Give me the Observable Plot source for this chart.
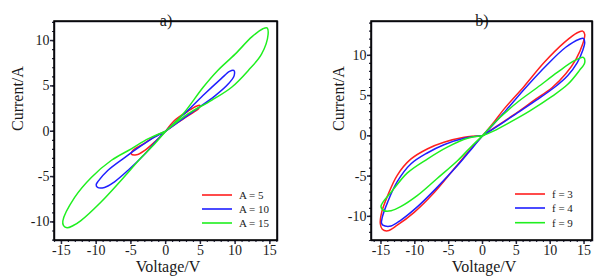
<!DOCTYPE html>
<html><head><meta charset="utf-8">
<script src="https://cdn.jsdelivr.net/npm/d3@7"></script>
<script src="https://cdn.jsdelivr.net/npm/@observablehq/plot@0.6"></script>
<style>
body{margin:0;background:#fff;}
#wrap{position:relative;width:607px;height:280px;}
#wrap svg{position:absolute;top:0;overflow:visible;}
#wrap svg, #wrap svg text{font-family:"Liberation Serif","DejaVu Serif",serif !important;}
</style></head><body><div id="wrap"></div>
<script>
const ampLabels = ["A = 5", "A = 10", "A = 15"];
const freqLabels = ["f = 3", "f = 4", "f = 9"];
const seriesColors = ["#ff1f1f", "#1f1fff", "#1fef1f"];
const xTicks = [-15, -10, -5, 0, 5, 10, 15];
const yTicks = [-10, -5, 0, 5, 10];

// panel a) lobes as [voltage, current]
const a5Up  = [[0,0],[1.3,1.2],[3.2,2.2],[4.4,2.75],[4.9,2.85],[4.75,2.5],[3.2,1.7],[1.3,0.73],[0,0]];
const a5Low = [[0,0],[-1.6,-0.6],[-3.0,-1.3],[-4.7,-2.1],[-4.95,-2.5],[-4.2,-2.6],[-3.0,-2.1],[-1.6,-1.2],[0,0]];
const a10Up  = [[0,0],[1.5,1.1],[3.2,2.3],[5.6,4.1],[8.0,5.8],[9.2,6.6],[9.8,6.7],[9.85,6.1],[9.0,5.2],[7.1,3.9],[4.2,2.3],[1.8,1.0],[0,0]];
const a10Low = [[0,0],[-1.6,-0.66],[-3.5,-1.6],[-5.9,-2.9],[-8.3,-4.3],[-9.7,-5.5],[-10.0,-5.9],[-9.8,-6.2],[-8.8,-6.2],[-7.4,-5.6],[-5.4,-4.3],[-3.0,-2.5],[-1.1,-0.85],[0,0]];
const a15Up  = [[0,0],[2.5,1.9],[5.4,4.85],[7.5,6.7],[10.0,8.5],[12.4,10.4],[14.0,11.3],[14.6,11.4],[14.75,10.7],[13.8,8.5],[11.9,6.7],[9.5,4.85],[6.6,3.4],[3.2,1.9],[0,0]];
const a15Low = [[0,0],[-2.55,-0.85],[-4.95,-1.95],[-7.8,-3.2],[-10.7,-5.1],[-13.1,-7.3],[-14.8,-9.9],[-14.7,-10.4],[-14.2,-10.65],[-13.3,-10.4],[-12.2,-9.85],[-9.3,-7.8],[-6.4,-5.4],[-3.5,-2.9],[-1.6,-1.4],[0,0]];

// panel b) lobes as [voltage, current]
const b3Up  = [[0,0],[1.5,1.5],[3.2,3.35],[6.2,6.2],[9.1,9.1],[12.1,11.6],[14.0,12.8],[14.8,13.0],[15.1,12.6],[14.8,11.4],[13.8,9.5],[12.3,7.7],[10.3,6.0],[7.6,4.4],[4.6,2.6],[2.1,1.2],[0,0]];
const b3Low = [[0,0],[-2.7,-0.17],[-5.7,-0.8],[-8.1,-1.6],[-10.6,-2.9],[-12.6,-4.9],[-14.0,-7.4],[-14.9,-9.5],[-15.1,-10.9],[-14.8,-11.6],[-14.0,-11.8],[-12.6,-11.1],[-10.1,-9.5],[-7.1,-7.0],[-4.2,-4.1],[-1.7,-1.6],[0,0]];
const b4Up  = [[0,0],[1.6,1.4],[3.4,3.1],[6.4,6.0],[9.4,8.7],[12.3,11.0],[14.3,12.0],[14.9,12.1],[15.1,11.6],[14.8,10.6],[14.0,9.1],[12.6,7.5],[10.6,6.0],[7.9,4.4],[4.9,2.7],[2.4,1.3],[0,0]];
const b4Low = [[0,0],[-2.7,-0.3],[-5.7,-1.1],[-8.1,-2.1],[-10.6,-3.5],[-12.6,-5.7],[-14.0,-8.2],[-14.8,-10.1],[-14.9,-10.9],[-14.4,-11.2],[-13.5,-11.2],[-12.1,-10.5],[-9.6,-8.8],[-6.7,-6.4],[-3.7,-3.7],[-1.5,-1.5],[0,0]];
const b9Up  = [[0,0],[2.1,1.9],[5.2,4.2],[8.1,6.0],[11.1,7.9],[13.5,9.3],[14.9,9.75],[15.1,9.1],[14.3,8.1],[12.6,6.4],[10.1,4.8],[7.0,3.1],[4.1,1.7],[1.6,0.58],[0,0]];
const b9Low = [[0,0],[-2.2,-0.3],[-5.2,-1.4],[-8.1,-2.85],[-11.1,-4.6],[-13.5,-7.0],[-14.6,-8.1],[-15.0,-8.8],[-14.5,-9.3],[-13.5,-9.3],[-12.1,-8.8],[-9.6,-7.4],[-6.7,-5.3],[-3.7,-3.1],[-1.5,-1.2],[0,0]];

function rows(lobes, label) {
  return lobes.flatMap((lobe, k) => lobe.map(([v, i]) => ({v, i, s: label, lobe: label + k})));
}
const dataA = [...rows([a5Up, a5Low], ampLabels[0]), ...rows([a10Up, a10Low], ampLabels[1]), ...rows([a15Up, a15Low], ampLabels[2])];
const dataB = [...rows([b3Up, b3Low], freqLabels[0]), ...rows([b4Up, b4Low], freqLabels[1]), ...rows([b9Up, b9Low], freqLabels[2])];

const FONT = "'Liberation Serif', 'DejaVu Serif', serif";
const INK = "#1a1a1a";
const FRAME = "#24243a";

function inside(values, dom) { return values.filter(v => v >= dom[0] && v <= dom[1]); }

function panel(o) {
  return Plot.plot({
    width: o.width, height: 280,
    marginLeft: o.ml, marginRight: o.mr, marginTop: o.mt, marginBottom: o.mb,
    x: {domain: o.xd, label: null},
    y: {domain: o.yd, label: null},
    color: {domain: o.labels, range: seriesColors},
    style: {fontFamily: FONT, fontSize: "14px", color: INK, background: "transparent", overflow: "visible"},
    marks: [
      Plot.axisX({ticks: inside(d3.range(-17, 18), o.xd), tickSize: 2, tickFormat: () => "", label: null, stroke: FRAME, strokeWidth: 1.2}),
      Plot.axisX({ticks: xTicks, tickSize: 4, tickPadding: 1, tickFormat: d => String(d), label: null, fontSize: 14, fontFamily: FONT, stroke: FRAME, strokeWidth: 1.5, fill: INK}),
      Plot.axisY({ticks: inside(d3.range(-15, 16), o.yd), tickSize: 2, tickFormat: () => "", label: null, stroke: FRAME, strokeWidth: 1.2}),
      Plot.axisY({ticks: yTicks, tickSize: 4, tickPadding: 1, tickFormat: d => String(d), label: null, fontSize: 14, fontFamily: FONT, stroke: FRAME, strokeWidth: 1.5, fill: INK}),
      Plot.frame({stroke: FRAME, strokeWidth: 1.5}),
      Plot.line(o.data, {x: "v", y: "i", z: "lobe", stroke: "s", curve: "catmull-rom", strokeWidth: 1.5}),
      Plot.text([o.title], {frameAnchor: "top", dy: o.titleDy, fontSize: 16, fontFamily: FONT, fill: INK}),
      Plot.text(["Voltage/V"], {frameAnchor: "bottom", dy: 31, dx: 2, fontSize: 16, fontFamily: FONT, fill: INK}),
      Plot.text(["Current/A"], {frameAnchor: "left", dx: o.ylDx, rotate: -90, fontSize: 16, fontFamily: FONT, fill: INK})
    ]
  });
}

function decorate(svg, labels, x0, x1, ys) {
  const sx = svg.scale("x").range, sy = svg.scale("y").range;
  const l = Math.min(...sx), r = Math.max(...sx), t = Math.min(...sy), b = Math.max(...sy);
  d3.select(svg).append("path")
    .attr("d", `M${l},${t}H${r}V${b}H${l}Z`)
    .attr("fill", "none").attr("stroke", "#000").attr("stroke-width", 1.5);
  const g = d3.select(svg).append("g")
    .attr("font-family", FONT).attr("font-size", 11).attr("fill", INK).attr("text-anchor", "start");
  labels.forEach((lab, k) => {
    g.append("line").attr("x1", x0).attr("x2", x1).attr("y1", ys[k]).attr("y2", ys[k])
      .attr("stroke", seriesColors[k]).attr("stroke-width", 1.6);
    g.append("text").attr("x", x1 + 7).attr("y", ys[k]).attr("dy", "0.35em")
      .style("text-anchor", "start").text(lab);
  });
}

const wrap = document.getElementById("wrap");
const pa = panel({width: 300, ml: 54, mr: 23, mt: 21, mb: 40, xd: [-16, 16.1], yd: [-12.05, 12.1],
  labels: ampLabels, data: dataA, title: "a)", titleDy: -7, ylDx: -37});
pa.style.left = "0px";
wrap.appendChild(pa);
decorate(pa, ampLabels, 202, 232, [195, 209, 223]);

const pb = panel({width: 307, ml: 71, mr: 15, mt: 21, mb: 40, xd: [-16.4, 16.25], yd: [-13, 14.2],
  labels: freqLabels, data: dataB, title: "b)", titleDy: -7, ylDx: -33});
pb.style.left = "300px";
wrap.appendChild(pb);
decorate(pb, freqLabels, 215, 245, [194, 208, 222.7]);
</script></body></html>
